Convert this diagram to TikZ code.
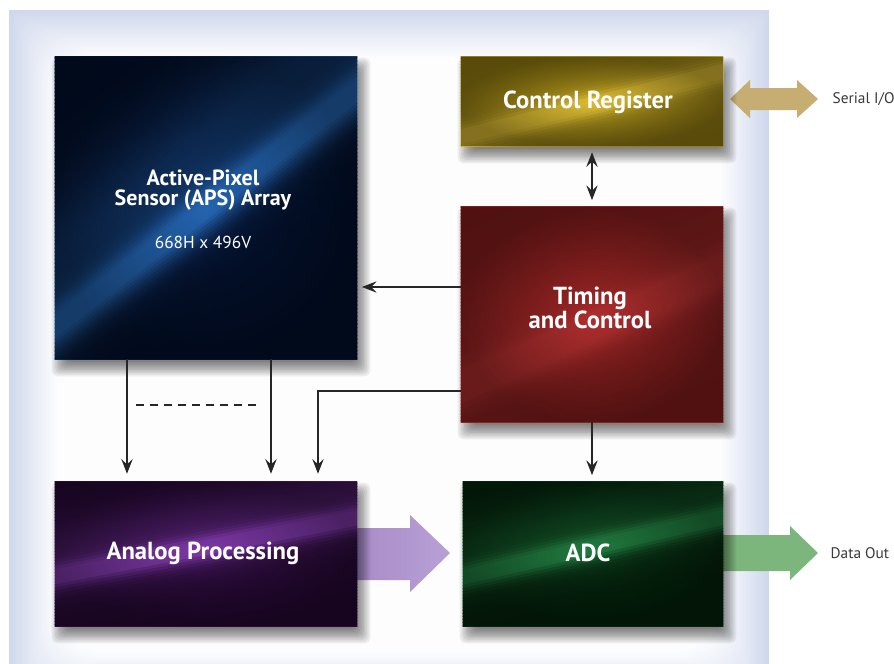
\documentclass[tikz,border=0pt]{standalone}
\usepackage{fontspec}
\setmainfont{PT Sans}
\usetikzlibrary{arrows.meta,calc,fadings}
\definecolor{panelblue}{HTML}{CFD8EC}
\definecolor{apsdark}{HTML}{03112E}
\definecolor{apslight}{HTML}{2464B0}
\definecolor{crdark}{HTML}{957E12}
\definecolor{crlight}{HTML}{DCBC32}
\definecolor{tcdark}{HTML}{871D1D}
\definecolor{tclight}{HTML}{B02E2E}
\definecolor{apdark}{HTML}{270936}
\definecolor{aplight}{HTML}{7E38A8}
\definecolor{adcdark}{HTML}{04230C}
\definecolor{adclight}{HTML}{217C40}
\definecolor{pA}{HTML}{A88CC8}
\definecolor{pB}{HTML}{DCCFEA}
\definecolor{pC}{HTML}{B8A0D4}
\definecolor{sA}{HTML}{C6AD72}
\definecolor{sB}{HTML}{F0E7C9}
\definecolor{gA}{HTML}{7DB67D}
\definecolor{gB}{HTML}{C3DEC3}
\definecolor{txtgrey}{HTML}{3A3A3A}
\tikzfading[name=vign, inner color=transparent!100, outer color=transparent!0]
\pgfdeclarelayer{lyrpanel}
\pgfsetlayers{lyrpanel,main}
\tikzset{
  box/.style={rectangle, draw=none, inner sep=0pt},
  lbl/.style={text=white, font=\bfseries\fontsize{18.5}{18}\selectfont, align=center},
  apslbl/.style={text=white, font=\bfseries\fontsize{16.5}{15.5}\selectfont, align=center},
  sublbl/.style={text=white, font=\fontsize{13}{14}\selectfont},
  outlbl/.style={text=txtgrey, font=\fontsize{11.5}{13}\selectfont, anchor=west},
  arr/.style={-{Stealth[length=11pt,width=8.5pt,inset=4pt]}, line width=0.8pt, black!85},
  darr/.style={{Stealth[length=11pt,width=8.5pt,inset=4pt]}-{Stealth[length=11pt,width=8.5pt,inset=4pt]}, line width=0.8pt, black!85},
}
% #1 node, #2 dark, #3 light, #4 angle, #5 streak offset, #6 streak width, #7 glow offset, #8 glow width, #9 glow strength
\newcommand\streaks[9]{%
  \begin{scope}
    \clip (#1.north west) rectangle (#1.south east);
    \fill[#2] (#1.north west) rectangle (#1.south east);
    \begin{scope}[shift={(#1.center)}, rotate=#4]
      \foreach \s in {-230,-227,...,230}{%
        \pgfmathsetmacro\pp{min(100, 90*exp(max(-((\s-#5)/#6)^2,-12)) + #9*exp(max(-((\s-#7)/#8)^2,-12)))}
        \fill[#3!\pp!#2] (-420,\s) rectangle (420,\s+4);
      }%
    \end{scope}
  \end{scope}
}
\newcommand\dropshadow[1]{%
  \foreach \k in {0,...,9}{%
    \fill[black, opacity=0.062, rounded corners=4pt]
      ($(#1.north west)+({-3+1.6*\k},{1+1.6*\k})$) rectangle ($(#1.south east)+({13-1.6*\k},{17-1.6*\k})$);
  }%
}
\newcommand\vignette[1]{%
  \fill[black, opacity=0.4, path fading=vign] (#1.north west) rectangle (#1.south east);
}
\begin{document}
\begin{tikzpicture}[x=0.75pt,y=-0.75pt]
\useasboundingbox (0,0) rectangle (894,664);

% boxes
\node[box, minimum width=226.5pt, minimum height=226.5pt] (aps) at (206,208) {};
\node[box, minimum width=196.5pt, minimum height=66.75pt] (cr) at (592,101.5) {};
\node[box, minimum width=196.5pt, minimum height=161.25pt] (tc) at (592,314.5) {};
\node[box, minimum width=226.5pt, minimum height=108pt] (ap) at (206,554) {};
\node[box, minimum width=195pt, minimum height=108pt] (adc) at (593,554) {};
\streaks{aps}{apsdark}{apslight}{38}{0}{20}{-45}{60}{40}
\streaks{cr}{crdark}{crlight}{14}{2}{11}{0}{30}{40}
\streaks{tc}{tcdark}{tclight}{24}{12}{20}{-10}{70}{45}
\streaks{ap}{apdark}{aplight}{11}{-8}{12}{-25}{40}{40}
\streaks{adc}{adcdark}{adclight}{13}{-8}{12}{-28}{40}{40}
\vignette{aps}\vignette{cr}\vignette{tc}\vignette{ap}\vignette{adc}

\begin{pgfonlayer}{lyrpanel}
\begin{scope}
\clip (0,0) rectangle (894,664);
\fill[white] (0,0) rectangle (894,664);
\foreach \i in {0,...,24}{
  \pgfmathsetmacro\m{\i*4}
  \fill[white!\m!panelblue, rounded corners={\i*1.6pt}] (9+\i*2,10+\i*2) rectangle (769-\i*2,700-\i*2);
}
\end{scope}
% big arrows
\shade[left color=pA, middle color=pB, right color=pC]
  (357,528) -- (410,528) -- (410,515) -- (450,553) -- (410,592) -- (410,580) -- (357,580) -- cycle;
\shade[left color=sA, middle color=sB, right color=sA]
  (730,99) -- (750,80) -- (750,88) -- (797,88) -- (797,80) -- (818,99) -- (797,118) -- (797,110) -- (750,110) -- (750,118) -- cycle;
\shade[left color=gA, middle color=gB, right color=gA]
  (723,535) -- (790,535) -- (790,526) -- (818,553) -- (790,580) -- (790,571) -- (723,571) -- cycle;
% shadows
\dropshadow{aps}\dropshadow{cr}\dropshadow{tc}\dropshadow{ap}\dropshadow{adc}
\end{pgfonlayer}

% labels
\node[apslbl] (apst) at (203,190) {Active-Pixel\\Sensor (APS) Array};
\node[sublbl] (apss) at (203,242) {668H x 496V};
\node[lbl] (crt) at (588,102) {Control Register};
\node[lbl] (tct) at (590,308) {Timing\\and Control};
\node[lbl] (apt) at (203,553) {Analog Processing};
\node[lbl] (adct) at (588,553) {ADC};
\node[outlbl] (sio) at (828,99) {Serial I/O};
\node[outlbl] (dout) at (826,553) {Data Out};

% connectors
\draw[arr, shorten >=3.5pt] (tc.west |- 0,287) -- (aps.east |- 0,287);
\draw[darr, shorten <=4.5pt, shorten >=5pt] (cr.south) -- (tc.north);
\draw[arr, shorten >=5pt] (tc.south) -- (tc.south |- adc.north);
\draw[arr, shorten >=6pt] (aps.south -| 127,0) -- (ap.north -| 127,0);
\draw[arr, shorten >=6pt] (aps.south -| 271,0) -- (ap.north -| 271,0);
\draw[arr, shorten >=6pt] (tc.west |- 0,391) -| (ap.north -| 318,0);
\coordinate (d1) at (136,405);
\coordinate (d2) at (262,405);
\draw[line width=0.8pt, black!85, dash pattern=on 6pt off 4.5pt] (d1) -- (d2);
\end{tikzpicture}
\end{document}
